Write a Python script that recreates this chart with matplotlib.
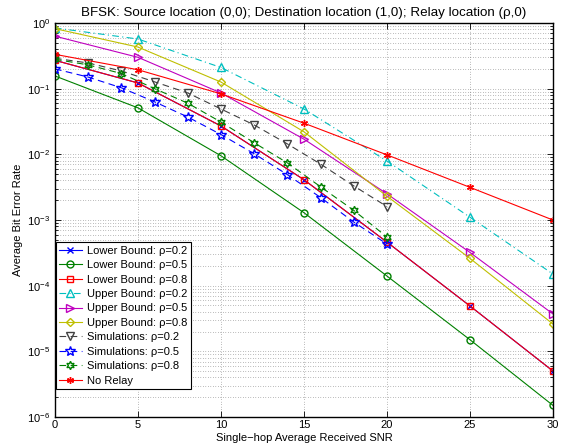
import numpy as np
import matplotlib.pyplot as plt
from matplotlib.ticker import NullFormatter, FixedLocator

plt.rcParams['font.family'] = ['Liberation Sans', 'DejaVu Sans']
plt.rcParams['font.size'] = 8

# SNR points (dB)
snr_bound = [0, 5, 10, 15, 20, 25, 30]
snr_sim = [0, 2, 4, 6, 8, 10, 12, 14, 16, 18, 20]

# values
lb_02 = [0.27, 0.122, 0.027, 4.1e-3, 4.6e-4, 4.9e-5, 5.0e-6]
lb_05 = [0.156, 0.051, 9.5e-3, 1.29e-3, 1.4e-4, 1.5e-5, 1.5e-6]
lb_08 = [0.27, 0.122, 0.027, 4.1e-3, 4.6e-4, 4.9e-5, 5.0e-6]
ub_02 = [0.84, 0.57, 0.21, 0.049, 7.9e-3, 1.1e-3, 1.5e-4]
ub_05 = [0.63, 0.30, 0.086, 0.017, 2.5e-3, 3.2e-4, 3.7e-5]
ub_08 = [0.82, 0.43, 0.126, 0.022, 2.3e-3, 2.6e-4, 2.6e-5]
sim_02 = [0.29, 0.246, 0.186, 0.127, 0.086, 0.049, 0.028, 0.0144, 7.1e-3, 3.3e-3, 1.6e-3]
sim_05 = [0.2, 0.15, 0.103, 0.063, 0.037, 0.020, 0.0102, 4.9e-3, 2.2e-3, 9.3e-4, 4.3e-4]
sim_08 = [0.28, 0.23, 0.17, 0.10, 0.060, 0.031, 0.015, 7.4e-3, 3.2e-3, 1.4e-3, 5.5e-4]
no_relay = [0.333, 0.194, 0.0833, 0.0298, 0.0098, 0.00314, 0.000998]

x_ticks = [0, 5, 10, 15, 20, 25, 30]
decades = [1e-6, 1e-5, 1e-4, 1e-3, 1e-2, 1e-1, 1]

blue = (0, 0, 1)
green = (0, 0.5, 0)
red = (1, 0, 0)
cyan = (0, 0.75, 0.75)
magenta = (0.75, 0, 0.75)
olive = (0.75, 0.75, 0)
gray = (0.25, 0.25, 0.25)

fig = plt.figure(figsize=(5.65, 4.48), dpi=100)
ax = fig.add_axes([0.0973, 0.0692, 0.8815, 0.8795])

lw = 0.8
ms = 5
dash = (0, (6, 4))
dashdot = (0, (6, 3, 1, 3))
hexagram = (6, 1, 0)

ax.plot(snr_bound, lb_02, color=blue, lw=lw, marker='x', ms=ms - 1, label='Lower Bound: ρ=0.2')
ax.plot(snr_bound, lb_05, color=green, lw=lw, marker='o', ms=ms, mfc='none', label='Lower Bound: ρ=0.5')
ax.plot(snr_bound, lb_08, color=red, lw=lw, marker='s', ms=ms - 0.5, mfc='none', label='Lower Bound: ρ=0.8')
ax.plot(snr_bound, ub_02, color=cyan, lw=lw, ls=dashdot, marker='^', ms=ms + 0.5, mfc='none', label='Upper Bound: ρ=0.2')
ax.plot(snr_bound, ub_05, color=magenta, lw=lw, marker='>', ms=ms + 0.5, mfc='none', label='Upper Bound: ρ=0.5')
ax.plot(snr_bound, ub_08, color=olive, lw=lw, marker='D', ms=ms - 0.5, mfc='none', label='Upper Bound: ρ=0.8')
ax.plot(snr_sim, sim_02, color=gray, lw=lw, ls=dash, marker='v', ms=ms + 0.5, mfc='none', label='Simulations: ρ=0.2')
ax.plot(snr_sim, sim_05, color=blue, lw=lw, ls=dash, marker='*', ms=ms + 2, mfc='none', label='Simulations: ρ=0.5')
ax.plot(snr_sim, sim_08, color=green, lw=lw, ls=dash, marker=hexagram, ms=ms + 1, mfc='none', label='Simulations: ρ=0.8')
ax.plot(snr_bound, no_relay, color=red, lw=lw, marker=(6, 2, 0), ms=ms, label='No Relay')

ax.set_yscale('log')
ax.set_xlim(0, 30)
ax.set_ylim(1e-6, 1)
ax.xaxis.set_major_locator(FixedLocator(x_ticks))
ax.yaxis.set_major_locator(FixedLocator(decades))
minor = [m * d for d in decades[:-1] for m in range(2, 10)]
ax.yaxis.set_minor_locator(FixedLocator(minor))
ax.yaxis.set_minor_formatter(NullFormatter())

ax.tick_params(which='both', direction='in', top=True, right=True, width=0.6)
ax.tick_params(which='major', length=4)
ax.tick_params(which='minor', length=2)
ax.tick_params(axis='x', pad=2.5)

ax.grid(True, which='major', axis='both', color='k', ls=(0, (1, 3)), lw=0.45, alpha=0.65)
ax.grid(True, which='minor', axis='y', color='k', ls=(0, (1, 3)), lw=0.45, alpha=0.65)

for s in ax.spines.values():
    s.set_linewidth(1.0)

ax.set_xlabel('Single\u2212hop Average Received SNR', labelpad=2)
ax.set_ylabel('Average Bit Error Rate', labelpad=3)
ax.set_title('BFSK: Source location (0,0); Destination location (1,0); Relay location (ρ,0)', pad=5)

leg = ax.legend(loc='lower left', bbox_to_anchor=(0.002, 0.071), borderaxespad=0,
                fontsize=8, labelspacing=0.4, handlelength=2.0, handletextpad=0.5,
                borderpad=0.3, fancybox=False, framealpha=1, edgecolor='k')
leg.get_frame().set_linewidth(0.8)

fig.savefig('out.png', dpi=100)
